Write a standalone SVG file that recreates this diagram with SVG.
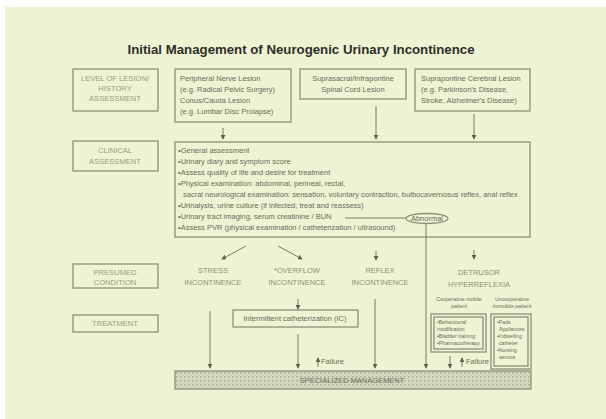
<svg xmlns="http://www.w3.org/2000/svg" width="606" height="419" viewBox="0 0 606 419">
<style>
.bg{fill:#eef3d3}
.box{fill:none;stroke:#8e9078;stroke-width:1.3}
.ln{fill:none;stroke:#777a66;stroke-width:1}
.t{font-family:"Liberation Sans",Arial,sans-serif;font-size:7.5px;fill:#6a6c5c}
.lab{font-family:"Liberation Sans",Arial,sans-serif;font-size:7.6px;fill:#9a9c86;text-anchor:middle}
.cond{font-family:"Liberation Sans",Arial,sans-serif;font-size:7.5px;fill:#8e907a;text-anchor:middle}
.sm{font-family:"Liberation Sans",Arial,sans-serif;font-size:5.2px;fill:#6a6c5c}
.smc{font-family:"Liberation Sans",Arial,sans-serif;font-size:5.3px;fill:#6a6c5c;text-anchor:middle}
.title{font-family:"Liberation Sans",Arial,sans-serif;font-size:12px;font-weight:bold;fill:#2e2e2a;text-anchor:middle}
</style>
<defs>
<marker id="ah" viewBox="0 0 6 6" refX="5" refY="3" markerWidth="5" markerHeight="5" orient="auto" markerUnits="userSpaceOnUse">
<path d="M0,0 L6,3 L0,6 z" fill="#5e6052"/>
</marker>
<pattern id="dots" width="4" height="4" patternUnits="userSpaceOnUse">
<rect width="4" height="4" fill="#d3d7bc"/>
<rect x="0" y="0" width="1.5" height="1.5" fill="#a9ad94"/>
</pattern>
</defs>
<rect width="606" height="419" fill="#ffffff"/>
<rect class="bg" x="5" y="7" width="601" height="412"/>
<text class="title" x="301" y="54" textLength="347" lengthAdjust="spacingAndGlyphs">Initial Management of Neurogenic Urinary Incontinence</text>

<g id="level-label"><rect class="box" x="73" y="69" width="85" height="42"/>
<text class="lab" x="115" y="81">LEVEL OF LESION/</text><text class="lab" x="115" y="91">HISTORY</text><text class="lab" x="115" y="101">ASSESSMENT</text></g>
<g id="clinical-label"><rect class="box" x="73" y="141" width="85" height="30"/>
<text class="lab" x="115" y="153">CLINICAL</text><text class="lab" x="115" y="164">ASSESSMENT</text></g>
<g id="presumed-label"><rect class="box" x="73" y="264" width="85" height="24"/>
<text class="lab" x="115" y="275">PRESUMED</text><text class="lab" x="115" y="285">CONDITION</text></g>
<g id="treatment-label"><rect class="box" x="73" y="315" width="85" height="17"/>
<text class="lab" x="115" y="326">TREATMENT</text></g>

<g id="peripheral"><rect class="box" x="175" y="69" width="116" height="53"/>
<text class="t" x="180" y="81">Peripheral Nerve Lesion</text>
<text class="t" x="180" y="92">(e.g. Radical Pelvic Surgery)</text>
<text class="t" x="180" y="103">Conus/Cauda Lesion</text>
<text class="t" x="180" y="114">(e.g. Lumbar Disc Prolapse)</text></g>
<g id="suprasacral"><rect class="box" x="300" y="69" width="106" height="30"/>
<text class="t" x="353" y="81" text-anchor="middle">Suprasacral/Infrapontine</text>
<text class="t" x="353" y="92" text-anchor="middle">Spinal Cord Lesion</text></g>
<g id="suprapontine"><rect class="box" x="415" y="69" width="115" height="42"/>
<text class="t" x="421" y="81">Suprapontine Cerebral Lesion</text>
<text class="t" x="421" y="92">(e.g. Parkinson's Disease,</text>
<text class="t" x="421" y="103">Stroke, Alzheimer's Disease)</text></g>

<g id="clinical"><rect class="box" x="175" y="142" width="355" height="95"/>
<text class="t" x="178" y="153">•General assessment</text>
<text class="t" x="178" y="164">•Urinary diary and symptom score</text>
<text class="t" x="178" y="175">•Assess quality of life and desire for treatment</text>
<text class="t" x="178" y="186">•Physical examination: abdominal, perineal, rectal,</text>
<text class="t" x="183" y="197">sacral neurological examination: sensation, voluntary contraction, bulbocavernosus reflex, anal reflex</text>
<text class="t" x="178" y="208">•Urinalysis, urine culture (if infected, treat and reassess)</text>
<text class="t" x="178" y="219">•Urinary tract imaging, serum creatinine / BUN</text>
<text class="t" x="178" y="230">•Assess PVR (physical examination / catheterization / ultrasound)</text></g>

<g id="abnormal"><ellipse class="box" cx="427" cy="218.5" rx="21" ry="5"/>
<text class="t" x="427" y="221" text-anchor="middle" font-size="6.3">Abnormal</text></g>

<g id="stress"><text class="cond" x="213" y="273">STRESS</text><text class="cond" x="213" y="285">INCONTINENCE</text></g>
<g id="overflow"><text class="cond" x="297" y="273">*OVERFLOW</text><text class="cond" x="297" y="285">INCONTINENCE</text></g>
<g id="reflex"><text class="cond" x="380" y="273">REFLEX</text><text class="cond" x="380" y="285">INCONTINENCE</text></g>
<g id="detrusor"><text class="cond" x="479" y="275">DETRUSOR</text><text class="cond" x="479" y="287">HYPERREFLEXIA</text></g>

<g id="cooperative"><text class="smc" x="459" y="301">Cooperative mobile</text><text class="smc" x="459" y="308">patient</text>
<rect class="box" x="431" y="314" width="55" height="38"/><rect class="box" x="434" y="317" width="49" height="32" stroke-width="0.8"/>
<text class="sm" x="437" y="324">•Behavioural</text><text class="sm" x="437" y="331">modification</text>
<text class="sm" x="437" y="338">•Bladder training</text><text class="sm" x="437" y="345">•Pharmacotherapy</text></g>
<g id="uncooperative"><text class="smc" x="512" y="301">Uncooperative</text><text class="smc" x="512" y="308">immobile patient</text>
<rect class="box" x="491" y="314" width="40" height="55"/><rect class="box" x="494" y="317" width="34" height="49" stroke-width="0.8"/>
<text class="sm" x="497" y="324">•Pads</text><text class="sm" x="499" y="331">Appliances</text>
<text class="sm" x="497" y="338">•Indwelling</text><text class="sm" x="499" y="345">catheter</text>
<text class="sm" x="497" y="352">•Nursing</text><text class="sm" x="499" y="359">service</text></g>

<g id="ic"><rect class="box" x="233" y="310" width="125" height="17"/>
<text class="t" x="295" y="321" text-anchor="middle" font-size="7.8">Intermittent catheterization (IC)</text></g>

<g id="specialized"><rect x="175" y="371" width="356" height="18" fill="url(#dots)" stroke="#8e9078" stroke-width="1.3"/>
<text class="t" x="352" y="383" text-anchor="middle" fill="#55574a" font-size="7.3">SPECIALIZED MANAGEMENT</text></g>

<g id="failure-labels">
<text class="t" x="321" y="364" font-size="7">Failure</text>
<text class="t" x="466" y="364" font-size="7">Failure</text></g>

<g id="connectors">
<line class="ln" x1="223" y1="128" x2="223" y2="139" marker-end="url(#ah)"/>
<line class="ln" x1="376" y1="106" x2="376" y2="139" marker-end="url(#ah)"/>
<line class="ln" x1="474" y1="114" x2="474" y2="139" marker-end="url(#ah)"/>
<line class="ln" x1="345" y1="218" x2="406" y2="218"/>
<line class="ln" x1="426" y1="223.5" x2="426" y2="368" marker-end="url(#ah)"/>
<line class="ln" x1="246" y1="246" x2="222" y2="259" marker-end="url(#ah)"/>
<line class="ln" x1="278" y1="246" x2="302" y2="259" marker-end="url(#ah)"/>
<line class="ln" x1="376" y1="251" x2="376" y2="260" marker-end="url(#ah)"/>
<line class="ln" x1="474" y1="250" x2="474" y2="259" marker-end="url(#ah)"/>
<line class="ln" x1="210" y1="311" x2="210" y2="368" marker-end="url(#ah)"/>
<line class="ln" x1="298" y1="299" x2="298" y2="309" marker-end="url(#ah)"/>
<line class="ln" x1="298" y1="334" x2="298" y2="368" marker-end="url(#ah)"/>
<line class="ln" x1="375" y1="299" x2="375" y2="368" marker-end="url(#ah)"/>
<line class="ln" x1="318" y1="367" x2="318" y2="358" marker-end="url(#ah)"/>
<line class="ln" x1="450" y1="356" x2="450" y2="368" marker-end="url(#ah)"/>
<line class="ln" x1="462" y1="367" x2="462" y2="358" marker-end="url(#ah)"/>
</g>
</svg>
